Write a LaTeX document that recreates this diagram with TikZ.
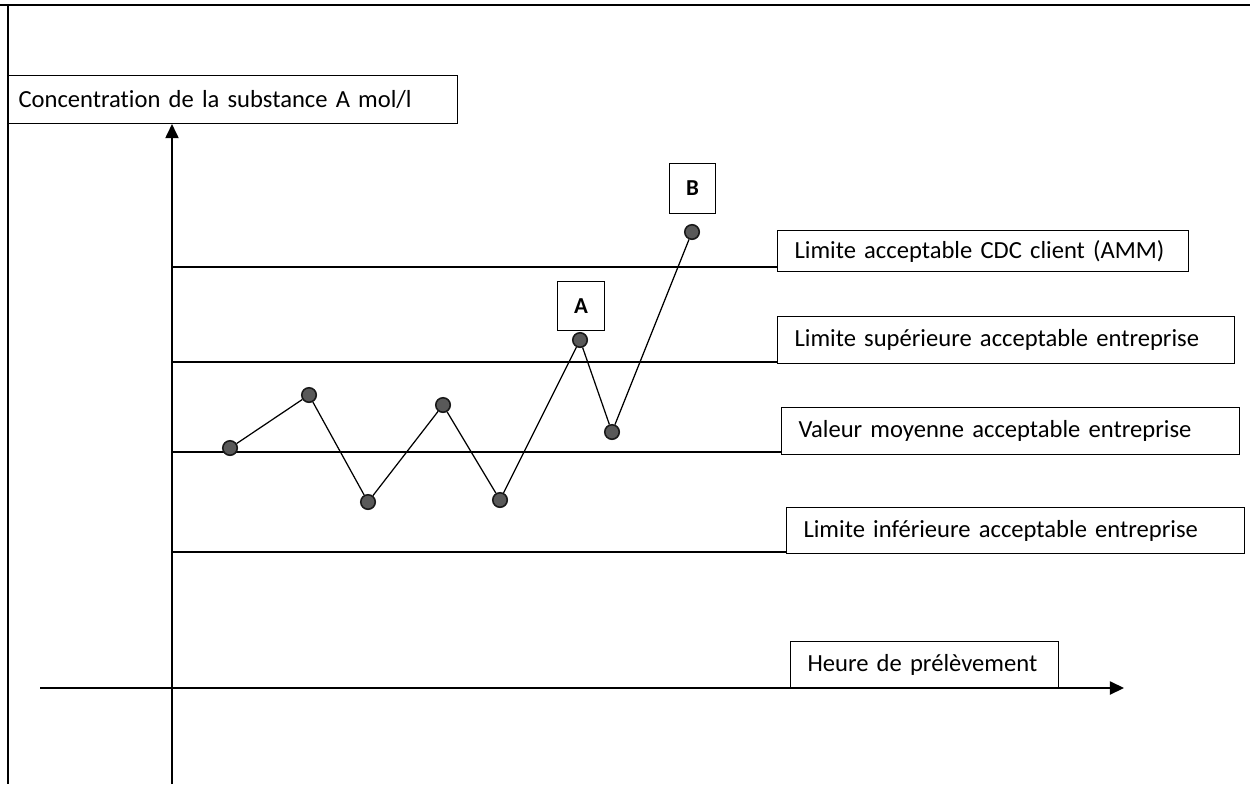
\documentclass[tikz,border=0pt]{standalone}
\usepackage{fontspec}
\setmainfont[Ligatures=CommonOff]{Carlito}
\usetikzlibrary{arrows.meta}
\begin{document}
\begin{tikzpicture}[x=0.02cm,y=-0.02cm,
  lbl/.style={draw,line width=0.6pt,rectangle,inner ysep=0pt,inner xsep=0.34cm,anchor=north west,align=left,font=\fontsize{14}{16}\selectfont},
  ab/.style={draw,line width=0.6pt,rectangle,inner sep=0pt,anchor=north west,font=\fontsize{13}{15}\selectfont\bfseries},
  pt/.style={circle,draw=black!90,fill=black!65,line width=0.9pt,minimum size=0.29cm,inner sep=0pt},
  lvl/.style={line width=0.7pt},
  lvlb/.style={line width=1.3pt},
  axis/.style={line width=0.8pt,-{Triangle[length=8pt,width=7.5pt]}}]
\useasboundingbox (0,0) rectangle (1250,784);
% frame
\draw[line width=1.1pt] (0,5) -- (1250,5);
\draw[line width=1.1pt] (8,5) -- (8,784);
% title
\node[lbl,minimum height=0.96cm,text width=8.58cm,inner xsep=0.2cm] (title) at (8,75) {Concentration de la substance A mol/l};
% axes
\coordinate (ybot) at (172,784);
\coordinate (xl) at (40,688);
\coordinate (xr) at (1124,688);
\draw[axis] (ybot) -- (ybot |- title.south);
\draw[axis] (xl) -- (xr);
% labels
\node[lbl,text width=7.54cm,minimum height=0.82cm] (cdc) at (777,230) {Limite acceptable CDC client (AMM)};
\node[lbl,text width=8.46cm,minimum height=0.94cm] (sup) at (777,316) {Limite supérieure acceptable entreprise};
\node[lbl,text width=8.48cm,minimum height=0.94cm] (moy) at (781,407) {Valeur moyenne acceptable entreprise};
\node[lbl,text width=8.48cm,minimum height=0.92cm] (inf) at (786,507) {Limite inférieure acceptable entreprise};
\node[lbl,text width=4.68cm,minimum height=0.92cm] (heure) at (790,641) {Heure de prélèvement};
% levels
\coordinate (c1) at (172,267);
\coordinate (c2) at (172,362);
\coordinate (c3) at (172,452);
\coordinate (c4) at (172,552);
\draw[lvl] (c1) -- (c1 -| cdc.west);
\draw[lvlb] (c2) -- (c2 -| sup.west);
\draw[lvl] (c3) -- (c3 -| moy.west);
\draw[lvlb] (c4) -- (c4 -| inf.west);
% points
\node[pt] (p1) at (230,448) {};
\node[pt] (p2) at (309,395) {};
\node[pt] (p3) at (368,502) {};
\node[pt] (p4) at (443,405) {};
\node[pt] (p5) at (500,500) {};
\node[pt] (p6) at (580,340) {};
\node[pt] (p7) at (612,432) {};
\node[pt] (p8) at (692,232) {};
\draw[line width=0.7pt] (p1) -- (p2) -- (p3) -- (p4) -- (p5) -- (p6) -- (p7) -- (p8);
% A B
\node[ab,minimum width=0.94cm,minimum height=0.98cm] (A) at (557,281) {A};
\node[ab,minimum width=0.92cm,minimum height=1.0cm] (B) at (669,163) {B};
\end{tikzpicture}
\end{document}
